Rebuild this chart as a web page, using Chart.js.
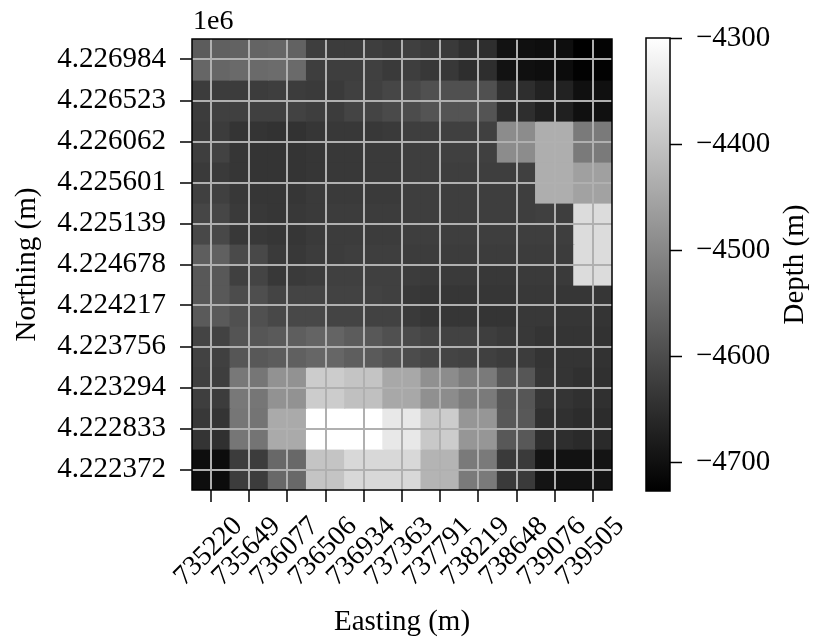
<!DOCTYPE html>
<html>
<head>
<meta charset="utf-8">
<script src="https://cdn.jsdelivr.net/npm/chart.js@4.4.1/dist/chart.umd.min.js"></script>
<style>
  body { margin: 0; background: #fff; }
  #wrap { position: relative; width: 814px; height: 637px; }
  #map { position: absolute; left: 0; top: 0; }
  #cbar { position: absolute; left: 620px; top: 0; }
</style>
</head>
<body>
<div id="wrap">
  <canvas id="map" width="640" height="637"></canvas>
  <canvas id="cbar" width="194" height="637"></canvas>
</div>
<script>
// tick labels
const xTickLabels = ['735220', '735649', '736077', '736506', '736934', '737363', '737791', '738219', '738648', '739076', '739505'];
const yTickLabels = ['4.222372', '4.222833', '4.223294', '4.223756', '4.224217', '4.224678', '4.225139', '4.225601', '4.226062', '4.226523', '4.226984'];
const cbarTicks = [-4700, -4600, -4500, -4400, -4300];

// depth (m) per cell, one row per line, top (north) row first, west -> east
const r00 = [-4573, -4566, -4563, -4560, -4556, -4563, -4623, -4627, -4627, -4623, -4630, -4620, -4630, -4630, -4647, -4650, -4697, -4700, -4704, -4704, -4727, -4720];
const r01 = [-4556, -4556, -4549, -4549, -4546, -4549, -4623, -4623, -4623, -4620, -4630, -4623, -4633, -4633, -4650, -4650, -4697, -4700, -4704, -4707, -4724, -4724];
const r02 = [-4627, -4627, -4627, -4627, -4623, -4627, -4630, -4630, -4620, -4620, -4610, -4606, -4593, -4593, -4593, -4593, -4647, -4650, -4670, -4670, -4700, -4700];
const r03 = [-4627, -4620, -4620, -4620, -4620, -4616, -4623, -4627, -4613, -4613, -4603, -4600, -4586, -4586, -4586, -4586, -4650, -4650, -4673, -4673, -4700, -4700];
const r04 = [-4630, -4627, -4640, -4640, -4643, -4643, -4637, -4633, -4633, -4633, -4630, -4623, -4623, -4620, -4620, -4620, -4493, -4493, -4436, -4436, -4523, -4523];
const r05 = [-4623, -4616, -4637, -4640, -4640, -4640, -4637, -4633, -4633, -4630, -4630, -4623, -4623, -4620, -4620, -4620, -4493, -4493, -4436, -4436, -4523, -4523];
const r06 = [-4630, -4630, -4637, -4640, -4640, -4640, -4637, -4633, -4633, -4630, -4630, -4623, -4623, -4623, -4623, -4623, -4623, -4620, -4436, -4436, -4459, -4459];
const r07 = [-4620, -4620, -4633, -4637, -4637, -4637, -4630, -4630, -4630, -4630, -4630, -4623, -4623, -4623, -4623, -4623, -4623, -4623, -4436, -4436, -4456, -4456];
const r08 = [-4610, -4610, -4630, -4633, -4637, -4633, -4630, -4627, -4627, -4627, -4627, -4623, -4623, -4623, -4623, -4623, -4623, -4623, -4620, -4623, -4359, -4359];
const r09 = [-4606, -4606, -4633, -4633, -4637, -4637, -4630, -4627, -4627, -4627, -4627, -4623, -4623, -4623, -4623, -4623, -4623, -4623, -4623, -4623, -4359, -4359];
const r10 = [-4570, -4566, -4603, -4606, -4630, -4633, -4627, -4627, -4623, -4623, -4623, -4627, -4627, -4627, -4627, -4627, -4627, -4627, -4627, -4627, -4359, -4359];
const r11 = [-4580, -4580, -4620, -4613, -4633, -4630, -4627, -4620, -4620, -4620, -4620, -4627, -4630, -4630, -4630, -4633, -4633, -4630, -4630, -4630, -4359, -4359];
const r12 = [-4580, -4580, -4600, -4596, -4613, -4613, -4613, -4616, -4616, -4616, -4620, -4633, -4637, -4637, -4637, -4637, -4637, -4633, -4633, -4637, -4637, -4637];
const r13 = [-4576, -4576, -4593, -4593, -4606, -4606, -4606, -4613, -4613, -4616, -4616, -4630, -4637, -4637, -4637, -4640, -4640, -4633, -4633, -4637, -4637, -4640];
const r14 = [-4613, -4616, -4586, -4583, -4576, -4570, -4560, -4560, -4573, -4580, -4593, -4603, -4613, -4616, -4616, -4623, -4630, -4633, -4640, -4640, -4640, -4643];
const r15 = [-4616, -4620, -4583, -4580, -4573, -4566, -4556, -4556, -4570, -4576, -4590, -4600, -4610, -4613, -4616, -4620, -4627, -4627, -4640, -4640, -4640, -4643];
const r16 = [-4620, -4623, -4526, -4529, -4483, -4483, -4385, -4385, -4399, -4399, -4446, -4446, -4486, -4493, -4519, -4523, -4583, -4583, -4637, -4640, -4647, -4647];
const r17 = [-4623, -4627, -4526, -4529, -4483, -4483, -4385, -4385, -4405, -4405, -4446, -4446, -4486, -4493, -4519, -4523, -4583, -4583, -4637, -4640, -4647, -4647];
const r18 = [-4633, -4640, -4529, -4533, -4442, -4442, -4300, -4300, -4300, -4300, -4339, -4339, -4392, -4385, -4476, -4476, -4580, -4580, -4647, -4647, -4653, -4653];
const r19 = [-4640, -4647, -4529, -4533, -4442, -4442, -4300, -4300, -4300, -4300, -4339, -4339, -4392, -4385, -4476, -4476, -4580, -4580, -4650, -4650, -4657, -4657];
const r20 = [-4704, -4707, -4627, -4627, -4553, -4553, -4399, -4399, -4365, -4365, -4365, -4365, -4426, -4426, -4523, -4523, -4630, -4630, -4694, -4697, -4697, -4694];
const r21 = [-4704, -4707, -4627, -4627, -4553, -4553, -4399, -4399, -4365, -4365, -4365, -4365, -4426, -4426, -4523, -4523, -4630, -4630, -4694, -4697, -4697, -4694];
const depthRows = [r00, r01, r02, r03, r04, r05, r06, r07, r08, r09, r10, r11, r12, r13, r14, r15, r16, r17, r18, r19, r20, r21];

const nRows = depthRows.length;
const nCols = r00.length;
const allVals = depthRows.flat();
const vmin = Math.min(...allVals);
const vmax = Math.max(...allVals);

Chart.defaults.font.family = '"Liberation Serif", "DejaVu Serif", serif';
Chart.defaults.font.size = 29;
Chart.defaults.color = '#000';

function gray(v) {
  const g = Math.round((v - vmin) / (vmax - vmin) * 255);
  return 'rgb(' + g + ',' + g + ',' + g + ')';
}

// one floating-bar dataset per row of cells
const datasets = depthRows.map((row, r) => ({
  data: row.map((v, c) => ({ x: c + 0.5, y: [nRows - 1 - r, nRows - r] })),
  backgroundColor: row.map(gray),
  borderWidth: 0,
  inflateAmount: 0.6,
  grouped: false,
  barPercentage: 1,
  categoryPercentage: 1
}));

const frame = {
  id: 'frame',
  afterDraw(chart, args, opts) {
    const { ctx, chartArea: a } = chart;
    ctx.save();
    ctx.strokeStyle = '#000';
    ctx.lineWidth = 1.5;
    ctx.strokeRect(a.left, a.top, a.right - a.left, a.bottom - a.top);
    if (opts.offsetText) {
      ctx.fillStyle = '#000';
      ctx.font = '28px "Liberation Serif"';
      ctx.textAlign = 'left';
      ctx.textBaseline = 'alphabetic';
      ctx.fillText(opts.offsetText, a.left + 1, a.top - 10);
    }
    if (opts.sideTitle) {
      ctx.fillStyle = '#000';
      ctx.font = '29px "Liberation Serif"';
      ctx.translate(chart.width - 19, (a.top + a.bottom) / 2);
      ctx.rotate(-Math.PI / 2);
      ctx.textAlign = 'center';
      ctx.textBaseline = 'middle';
      ctx.fillText(opts.sideTitle, 0, 0);
    }
    ctx.restore();
  }
};

const gridStyle = { z: 1, offset: false, color: '#b0b0b0', lineWidth: 2, tickColor: '#000', tickLength: 12, tickWidth: 1.5 };

new Chart(document.getElementById('map'), {
  type: 'bar',
  data: { datasets: datasets },
  plugins: [frame],
  options: {
    responsive: false,
    animation: false,
    events: [],
    layout: { padding: { left: 0, top: 39, right: 28, bottom: 0 } },
    plugins: {
      legend: { display: false },
      tooltip: { enabled: false },
      frame: { offsetText: '1e6' }
    },
    scales: {
      x: {
        type: 'linear',
        min: 0,
        max: nCols,
        offset: false,
        afterBuildTicks: axis => { axis.ticks = xTickLabels.map((l, i) => ({ value: 1 + 2 * i })); },
        afterFit: axis => { axis.height = 147; },
        ticks: {
          autoSkip: false,
          minRotation: 45,
          maxRotation: 45,
          padding: 8,
          labelOffset: 27,
          font: { size: 28 },
          callback: v => xTickLabels[(v - 1) / 2]
        },
        grid: gridStyle,
        border: { display: false },
        title: { display: true, text: 'Easting (m)', padding: { top: 0, bottom: -3 } }
      },
      y: {
        type: 'linear',
        min: 0,
        max: nRows,
        afterBuildTicks: axis => { axis.ticks = yTickLabels.map((l, i) => ({ value: 1 + 2 * i })); },
        afterFit: axis => { axis.width = 192; },
        ticks: {
          autoSkip: false,
          padding: 14,
          callback: v => yTickLabels[(v - 1) / 2]
        },
        grid: gridStyle,
        border: { display: false },
        title: { display: true, text: 'Northing (m)', padding: { top: 10, bottom: 0 } }
      }
    }
  }
});

// colour bar
new Chart(document.getElementById('cbar'), {
  type: 'bar',
  data: {
    labels: [''],
    datasets: [{
      data: [[vmin, vmax]],
      backgroundColor: ctx => {
        const a = ctx.chart.chartArea;
        if (!a) return '#888';
        const g = ctx.chart.ctx.createLinearGradient(0, a.bottom, 0, a.top);
        g.addColorStop(0, '#000');
        g.addColorStop(1, '#fff');
        return g;
      },
      borderWidth: 0,
      barPercentage: 1,
      categoryPercentage: 1
    }]
  },
  plugins: [frame],
  options: {
    responsive: false,
    animation: false,
    events: [],
    layout: { padding: { left: 26, top: 38, right: 0, bottom: 146 } },
    plugins: {
      legend: { display: false },
      tooltip: { enabled: false },
      frame: { sideTitle: 'Depth (m)' }
    },
    scales: {
      x: { display: false },
      y: {
        position: 'right',
        min: vmin,
        max: vmax,
        afterBuildTicks: axis => { axis.ticks = cbarTicks.map(v => ({ value: v })); },
        afterFit: axis => { axis.width = 144; },
        ticks: {
          padding: 14,
          callback: v => '\u2212' + Math.abs(v)
        },
        grid: { drawOnChartArea: false, tickColor: '#000', tickLength: 12, tickWidth: 1.5 },
        border: { display: false }
      }
    }
  }
});
</script>
</body>
</html>
